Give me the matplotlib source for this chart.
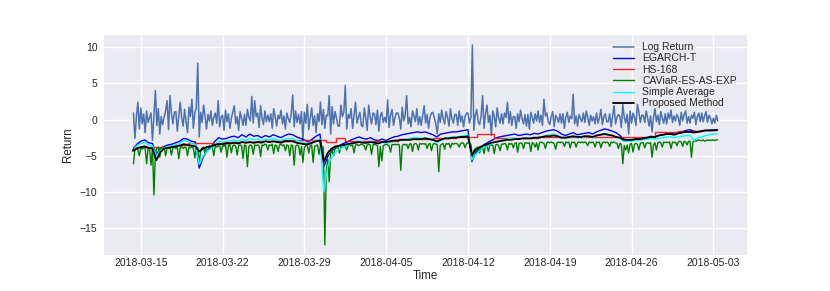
import matplotlib
matplotlib.use("Agg")
import matplotlib.pyplot as plt
import pandas as pd

# ---------------- data ----------------
# 3-hourly log return, 2018-03-14 09:00 .. 2018-05-03 09:00 (one row per day)
log_return = [
    0.9, -2.6, 0.4, 2.4, -1.3,
    1.6, -0.6, 0.8, -1.8, 1.2, -0.4, 0.3, 0.9,
    -2.9, 0.6, 4.0, -0.8, 1.5, -2.0, 0.4, -0.7,
    0.3, 1.2, 2.6, -1.4, 3.3, 0.8, -0.6, 1.0,
    1.1, -1.6, 0.5, 2.4, 0.2, -0.9, 1.4, -0.3,
    -1.8, 1.7, 0.4, 2.8, -1.2, 0.9, 1.6, 7.8,
    -2.4, 1.0, -0.4, 2.0, 0.5, -1.3, 0.7, -0.2,
    1.2, -0.8, 0.3, 0.9, -0.5, 2.6, -1.0, 0.4,
    0.6, -1.5, 1.3, -0.3, 0.8, -1.2, 0.2, 1.0,
    1.9, -0.6, 0.4, -1.5, 1.1, 0.2, -0.8, 0.7,
    -0.8, 1.4, 0.3, -0.2, 3.2, -0.5, 2.6, 0.4,
    0.9, -1.1, 1.9, 0.2, -0.7, 1.2, -0.3, 0.6,
    -0.3, 0.8, -1.2, 1.5, 0.4, -0.9, 0.6, 0.1,
    1.3, -0.6, 0.5, -1.3, 0.9, 0.1, -0.4, 0.8,
    3.4, -1.0, 1.2, -0.4, 0.7, -0.6, 1.1, -2.9,
    1.0, -0.5, 2.1, -1.4, 0.3, 1.6, -0.8, 0.5,
    -1.8, 0.8, -0.3, 2.4, -0.7, 1.4, -1.2, 0.6,
    0.5, 3.3, -2.0, 1.8, -0.6, 1.1, 0.2, -0.9,
    -0.9, 2.0, 0.4, 1.0, 4.7, -1.3, 0.7, 0.2,
    1.5, -1.2, 0.6, 2.4, -0.5, 0.3, 1.0, -0.8,
    -1.0, 1.6, 0.2, -1.5, 2.0, 0.4, -0.6, 0.9,
    0.8, -0.7, 1.3, -1.6, 0.5, 1.0, -0.4, 0.3,
    -0.4, 2.7, -1.1, 0.6, 1.4, -0.8, 0.2, 0.9,
    0.9, 0.2, -1.3, 1.7, -0.2, 0.6, 3.3, -0.6,
    0.3, -1.0, 1.2, 0.5, -0.3, 1.5, -0.7, 0.4,
    -0.8, 0.6, 1.9, -0.5, 0.7, -1.2, 0.3, 0.9,
    1.0, 0.2, -0.6, -2.0, 0.8, -0.4, 1.3, 0.1,
    -0.6, 1.1, 0.3, -0.9, 1.5, 0.1, -0.5, 0.7,
    0.7, -0.8, 1.2, -0.3, 0.5, -1.0, 0.4, 0.9,
    0.9, -0.5, 0.3, 10.3, -1.5, 0.6, 1.4, -0.3,
    -0.7, 0.5, 3.3, -1.2, 0.8, 2.0, -0.4, 0.6,
    -2.2, 1.2, 0.4, -1.0, 1.6, 0.2, -0.5, 0.8,
    -0.6, 0.9, 0.3, 2.4, -0.5, 1.1, -0.8, 0.4,
    0.4, -1.2, 0.8, -0.3, 1.3, 0.1, -0.6, 0.7,
    -0.9, 0.7, -1.3, 1.0, 0.3, -0.5, 0.8, -0.2,
    1.2, -0.4, 0.6, -0.8, 2.8, 0.5, 0.9, -0.3,
    -0.7, 0.4, 1.1, -1.0, 0.6, 0.2, -0.4, 0.8,
    -0.5, 0.8, -1.2, 0.3, 1.0, -0.4, 0.5, 0.1,
    3.5, -0.6, 0.5, -0.9, 0.7, 0.1, -0.3, 0.9,
    -0.4, 1.2, 0.3, -0.8, 0.6, -0.2, 0.4, -0.6,
    0.9, -0.5, 0.2, 1.4, -0.7, 0.4, 0.8, -0.3,
    -0.3, 0.8, -1.0, 0.5, 1.9, -0.6, 0.3, 0.7,
    0.4, -1.1, 2.1, 0.3, -0.5, 0.7, -2.0, 1.2,
    -0.5, 0.9, 0.3, -0.8, 2.1, 1.0, -0.4, 0.6,
    0.6, -0.4, 1.2, 0.2, -0.9, 0.5, -1.7, 0.3,
    1.5, -0.3, 0.6, -0.7, 1.1, 0.2, -0.5, 0.8,
    -0.6, 0.9, 0.1, 1.3, -0.4, 0.5, -0.2, 0.7,
    0.3, -0.8, 1.0, -0.2, 0.7, 1.2, -0.5, 0.4,
    -0.5, 0.6, 0.2, 1.0, -0.7, 0.4, 0.9, -0.3,
    0.9, -0.3, 0.5, 1.1, -0.4, 0.6, 0.2, -0.6,
    0.2, -0.5, 0.6, -0.2,
]

# 3-hourly CAViaR-ES-AS-EXP, same timestamps
caviar = [
    -6.1, -4.0, -3.8, -4.2, -5.0,
    -3.9, -4.1, -3.8, -4.0, -6.1, -3.9, -4.0, -6.3,
    -3.9, -10.4, -4.6, -4.0, -3.8, -5.2, -3.9, -4.1,
    -3.8, -5.0, -3.9, -4.0, -3.8, -4.9, -3.9, -3.8,
    -4.0, -3.8, -5.4, -3.9, -3.7, -4.0, -3.8, -3.9,
    -5.0, -3.8, -3.9, -3.7, -4.0, -5.3, -3.8, -3.9,
    -6.0, -4.3, -3.9, -3.8, -4.8, -3.7, -3.9, -3.6,
    -3.8, -3.7, -5.0, -3.6, -3.8, -3.7, -3.6, -4.5,
    -3.6, -3.7, -3.5, -5.2, -3.6, -3.5, -4.6, -3.6,
    -3.5, -3.7, -4.9, -3.6, -3.5, -3.6, -5.4, -3.5,
    -3.6, -6.5, -3.7, -3.5, -3.6, -4.8, -3.5, -3.6,
    -3.5, -3.6, -5.1, -3.5, -3.6, -3.4, -3.5, -4.2,
    -3.5, -3.6, -3.4, -4.7, -3.5, -3.6, -4.4, -3.5,
    -3.4, -3.6, -3.5, -4.3, -3.5, -3.6, -5.0, -3.5,
    -3.6, -6.3, -3.7, -3.5, -3.6, -4.9, -3.7, -5.9,
    -3.8, -3.6, -3.5, -4.6, -3.6, -3.5, -5.9, -3.7,
    -3.6, -3.5, -4.8, -3.6, -3.7, -3.8, -17.3, -7.0,
    -5.5, -8.6, -4.6, -4.3, -5.0, -4.0, -3.9, -3.8,
    -4.6, -3.7, -3.6, -3.5, -3.7, -4.2, -3.6, -3.5,
    -3.6, -3.5, -4.6, -3.5, -3.4, -3.6, -3.5, -3.4,
    -3.5, -3.6, -4.2, -3.5, -3.4, -3.5, -4.8, -3.5,
    -3.4, -3.5, -3.6, -6.5, -3.7, -5.7, -3.6, -3.5,
    -3.4, -3.5, -3.6, -4.5, -3.4, -3.5, -3.4, -3.5,
    -3.4, -3.5, -7.0, -3.6, -3.4, -3.5, -3.4, -4.0,
    -3.4, -3.3, -4.4, -3.4, -3.3, -3.4, -4.2, -3.3,
    -3.4, -3.3, -3.4, -3.3, -4.0, -3.4, -3.3, -4.3,
    -3.4, -3.3, -3.4, -3.5, -7.2, -3.6, -3.4, -3.3,
    -4.1, -3.3, -3.4, -3.3, -3.9, -3.3, -3.4, -3.3,
    -3.3, -3.4, -3.8, -3.3, -3.2, -3.3, -3.9, -3.3,
    -3.2, -3.3, -3.4, -5.2, -4.3, -4.0, -3.9, -3.8,
    -4.6, -3.7, -3.8, -4.7, -3.6, -3.7, -4.4, -3.5,
    -3.5, -3.6, -4.7, -3.5, -3.4, -3.6, -4.3, -3.4,
    -3.4, -3.3, -3.4, -4.2, -3.3, -3.4, -3.3, -3.9,
    -3.3, -3.2, -4.5, -3.3, -3.2, -3.3, -4.0, -3.2,
    -3.2, -3.3, -3.2, -4.4, -3.2, -3.3, -3.8, -3.2,
    -4.2, -3.2, -3.1, -3.2, -3.3, -4.0, -3.2, -3.1,
    -3.2, -3.1, -3.2, -3.3, -4.1, -3.2, -3.1, -3.2,
    -3.1, -3.2, -3.7, -3.1, -3.2, -3.1, -3.9, -3.1,
    -3.2, -3.1, -3.8, -3.2, -3.1, -3.2, -3.1, -3.2,
    -3.1, -3.2, -3.6, -3.1, -3.2, -3.1, -3.2, -3.8,
    -3.1, -3.2, -3.1, -3.9, -3.2, -3.1, -3.2, -3.1,
    -3.2, -3.7, -3.1, -3.2, -3.1, -3.2, -3.3, -4.0,
    -3.3, -3.4, -6.1, -3.6, -4.2, -3.5, -4.6, -3.4,
    -3.3, -4.5, -3.4, -3.3, -3.4, -4.2, -3.3, -3.2,
    -3.2, -3.9, -3.3, -3.2, -3.3, -3.2, -5.2, -3.5,
    -3.2, -4.2, -3.2, -3.1, -3.2, -3.8, -3.1, -3.2,
    -3.1, -3.2, -3.1, -4.0, -3.1, -3.2, -3.1, -3.6,
    -3.1, -3.0, -3.1, -3.7, -3.0, -3.1, -3.5, -3.0,
    -3.0, -5.2, -3.1, -2.9, -3.0, -2.9, -2.8, -2.9,
    -2.9, -2.8, -3.0, -2.9, -2.8, -2.9, -2.8, -2.9,
    -2.8, -2.9, -2.8, -2.8,
]

# 8-hourly forecasts, 2018-03-14 08:00 .. 2018-05-03 08:00
egarch = [
    -4.2, -3.4,
    -3.0, -2.8, -3.2,
    -3.3, -4.8, -4.0,
    -3.7, -3.5, -3.4,
    -3.2, -3.0, -2.6,
    -2.7, -3.0, -3.1,
    -6.7, -5.2, -4.3,
    -3.8, -3.0, -2.5,
    -2.7, -2.6, -2.4,
    -2.3, -2.5, -2.1,
    -2.4, -2.0, -2.3,
    -2.2, -2.5, -2.2,
    -2.4, -2.1, -2.3,
    -2.5, -2.2, -2.0,
    -2.1, -2.4, -2.6,
    -2.8, -3.1, -2.7,
    -2.3, -2.0, -6.5,
    -5.1, -4.3, -3.9,
    -3.6, -3.3, -3.1,
    -2.8, -2.6, -2.4,
    -2.6, -2.7, -2.5,
    -2.8, -2.9, -2.7,
    -2.9, -2.6, -2.4,
    -2.3, -2.1, -2.0,
    -1.9, -1.8, -1.7,
    -1.8, -1.7, -1.9,
    -2.1, -2.4, -2.0,
    -1.9, -1.8, -1.7,
    -1.7, -1.6, -1.5,
    -1.4, -5.8, -4.6,
    -4.0, -3.5, -3.2,
    -2.9, -2.6, -2.4,
    -2.3, -2.2, -2.1,
    -2.0, -2.2, -2.1,
    -2.0, -2.1, -1.9,
    -2.0, -1.8, -1.6,
    -1.5, -1.4, -1.6,
    -2.0, -2.2, -2.0,
    -1.8, -2.1, -2.0,
    -1.9, -1.8, -2.0,
    -1.7, -1.5, -1.3,
    -1.4, -1.6, -1.8,
    -2.2, -2.7, -2.8,
    -2.8, -2.7, -2.7,
    -2.6, -2.5, -2.3,
    -2.4, -2.2, -2.1,
    -2.0, -1.9, -2.0,
    -1.9, -1.7, -1.5,
    -1.4, -1.6, -1.7,
    -1.6, -1.5, -1.5,
    -1.4, -1.4,
]

simple_avg = [
    -4.4, -3.6,
    -3.3, -3.1, -3.5,
    -3.6, -5.0, -4.3,
    -3.9, -3.8, -3.6,
    -3.5, -3.3, -2.9,
    -3.0, -3.3, -3.4,
    -6.2, -5.0, -4.4,
    -4.0, -3.4, -3.0,
    -3.1, -3.0, -2.9,
    -2.8, -3.0, -2.7,
    -2.9, -2.6, -2.8,
    -2.7, -2.9, -2.7,
    -2.8, -2.6, -2.8,
    -2.9, -2.7, -2.6,
    -2.6, -2.9, -3.0,
    -3.2, -3.4, -3.1,
    -2.9, -2.7, -10.0,
    -6.4, -5.2, -4.5,
    -4.1, -3.8, -3.6,
    -3.3, -3.2, -3.0,
    -3.1, -3.2, -3.0,
    -3.2, -3.3, -3.1,
    -3.3, -3.1, -2.9,
    -2.9, -2.8, -2.7,
    -2.6, -2.5, -2.5,
    -2.6, -2.5, -2.6,
    -2.8, -3.2, -2.8,
    -2.6, -2.5, -2.4,
    -2.4, -2.3, -2.2,
    -2.1, -5.6, -4.8,
    -4.3, -3.9, -3.6,
    -3.3, -3.1, -2.9,
    -2.8, -2.7, -2.6,
    -2.6, -2.7, -2.6,
    -2.5, -2.6, -2.5,
    -2.5, -2.4, -2.2,
    -2.1, -2.0, -2.2,
    -2.5, -2.6, -2.5,
    -2.3, -2.5, -2.5,
    -2.4, -2.3, -2.5,
    -2.3, -2.1, -1.9,
    -2.0, -2.2, -2.4,
    -2.6, -3.0, -3.0,
    -3.0, -2.9, -2.8,
    -2.8, -2.7, -2.6,
    -2.7, -2.6, -2.5,
    -2.4, -2.4, -2.5,
    -2.4, -2.3, -2.2,
    -2.2, -2.9, -2.5,
    -2.4, -2.2, -2.1,
    -2.0, -2.0,
]

proposed = [
    -4.3, -4.0,
    -3.8, -3.7, -3.9,
    -4.0, -5.6, -4.5,
    -4.0, -3.9, -3.8,
    -3.7, -3.6, -3.4,
    -3.5, -3.6, -3.7,
    -4.4, -4.0, -3.8,
    -3.7, -3.5, -3.4,
    -3.4, -3.3, -3.3,
    -3.2, -3.3, -3.1,
    -3.2, -3.1, -3.2,
    -3.1, -3.2, -3.0,
    -3.1, -3.0, -3.1,
    -3.2, -3.0, -3.0,
    -3.0, -3.2, -3.3,
    -3.4, -3.4, -3.2,
    -3.0, -2.9, -5.8,
    -4.6, -4.0, -3.7,
    -3.6, -3.5, -3.4,
    -3.3, -3.2, -3.1,
    -3.2, -3.2, -3.1,
    -3.2, -3.3, -3.1,
    -3.1, -3.0, -2.9,
    -2.9, -2.8, -2.8,
    -2.8, -2.7, -2.7,
    -2.7, -2.6, -2.7,
    -2.8, -3.0, -2.8,
    -2.6, -2.6, -2.5,
    -2.5, -2.4, -2.4,
    -2.3, -4.9, -4.2,
    -3.8, -3.6, -3.4,
    -3.2, -3.1, -3.0,
    -2.9, -2.8, -2.8,
    -2.7, -2.7, -2.6,
    -2.6, -2.6, -2.5,
    -2.5, -2.4, -2.3,
    -2.3, -2.2, -2.3,
    -2.5, -2.5, -2.4,
    -2.3, -2.4, -2.4,
    -2.3, -2.3, -2.4,
    -2.2, -2.1, -2.0,
    -2.1, -2.2, -2.4,
    -2.5, -2.8, -2.8,
    -2.8, -2.7, -2.7,
    -2.6, -2.5, -2.4,
    -2.4, -2.2, -2.1,
    -2.0, -2.0, -2.1,
    -1.9, -1.8, -1.7,
    -1.7, -1.8, -1.7,
    -1.6, -1.5, -1.5,
    -1.5, -1.45,
]

# HS-168 is piecewise constant: change times and levels
hs_dates = ["2018-03-14 08:00", "2018-03-17 12:00", "2018-03-19 00:00",
            "2018-03-22 00:00", "2018-03-25 00:00", "2018-03-27 00:00",
            "2018-03-30 20:00", "2018-03-31 16:00", "2018-04-01 12:00",
            "2018-04-04 00:00", "2018-04-06 00:00", "2018-04-09 00:00",
            "2018-04-11 00:00", "2018-04-12 18:00", "2018-04-14 06:00",
            "2018-04-17 00:00", "2018-04-18 00:00", "2018-04-23 00:00",
            "2018-04-28 00:00", "2018-04-30 00:00", "2018-05-02 00:00",
            "2018-05-03 08:00"]
hs_values = [-3.8, -3.5, -3.3,
             -3.1, -2.9, -2.8,
             -3.05, -2.55, -3.0,
             -2.9, -2.75, -2.6,
             -2.4, -2.0, -2.55,
             -2.5, -2.45, -2.4,
             -1.75, -1.6, -1.45,
             -1.4]

tick_labels = ["2018-03-15", "2018-03-22", "2018-03-29", "2018-04-05",
               "2018-04-12", "2018-04-19", "2018-04-26", "2018-05-03"]
y_ticks = [-15, -10, -5, 0, 5, 10]

# ---------------- plot ----------------
plt.style.use("seaborn-v0_8")
plt.rcParams["font.family"] = ["Liberation Sans", "DejaVu Sans"]

t3 = pd.date_range("2018-03-14 09:00", periods=len(log_return), freq="3h")
t3c = pd.date_range("2018-03-14 09:00", periods=len(caviar), freq="3h")
t8 = pd.date_range("2018-03-14 08:00", periods=len(egarch), freq="8h")
t8s = pd.date_range("2018-03-14 08:00", periods=len(simple_avg), freq="8h")
t8p = pd.date_range("2018-03-14 08:00", periods=len(proposed), freq="8h")
th = pd.to_datetime(hs_dates)

fig, ax = plt.subplots(figsize=(8.3, 2.91), dpi=100)
fig.subplots_adjust(left=0.125, right=0.9, top=0.88, bottom=0.124)
ax.plot(t3, log_return, color="#4C72B0", lw=1.1, label="Log Return")
ax.plot(t8, egarch, color="blue", lw=1.0, label="EGARCH-T")
ax.plot(th, hs_values, color="red", lw=1.0, alpha=0.85, drawstyle="steps-post", label="HS-168")
ax.plot(t3c, caviar, color="green", lw=1.0, label="CAViaR-ES-AS-EXP")
ax.plot(t8s, simple_avg, color="cyan", lw=1.0, label="Simple Average")
ax.plot(t8p, proposed, color="black", lw=1.3, label="Proposed Method")

ax.set_xticks(pd.to_datetime(tick_labels))
ax.set_xticklabels(tick_labels)
ax.set_yticks(y_ticks)
ax.tick_params(axis="x", labelsize=7.5, colors="#262626", pad=2.5)
ax.tick_params(axis="y", labelsize=7.5, colors="#262626", pad=4.5)
ax.set_xlabel("Time", fontsize=8.3, labelpad=1.5, color="#262626")
ax.set_ylabel("Return", fontsize=8.3, labelpad=4, color="#262626")
ax.legend(loc="upper right", bbox_to_anchor=(0.9907, 0.986), borderaxespad=0,
          fontsize=7.5, frameon=False, handlelength=2.0, labelspacing=0.12)

fig.savefig("out.png", dpi=100)
